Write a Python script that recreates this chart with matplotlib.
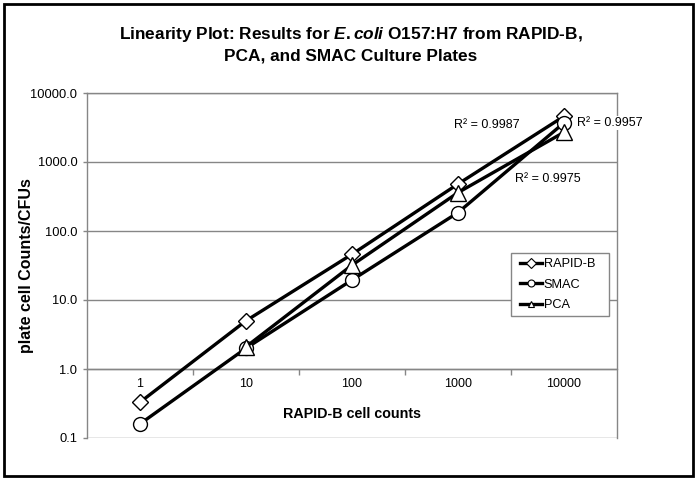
import numpy as np
import matplotlib
matplotlib.use("Agg")
import matplotlib.pyplot as plt
from matplotlib.lines import Line2D
from matplotlib.patches import Rectangle

plt.rcParams['font.family'] = ['Liberation Sans', 'DejaVu Sans']
plt.rcParams['mathtext.fontset'] = 'custom'
plt.rcParams['mathtext.rm'] = 'Liberation Sans:bold'
plt.rcParams['mathtext.it'] = 'Liberation Sans:bold:italic'
plt.rcParams['mathtext.bf'] = 'Liberation Sans:bold'

# ---- data ----
categories = ['1', '10', '100', '1000', '10000']
rapid_b = [0.33, 5.0, 46.0, 480.0, 4600.0]
smac = [0.16, 2.0, 19.5, 185.0, 3700.0]
pca = [np.nan, 2.1, 32.0, 360.0, 2700.0]
y_ticks = [0.1, 1, 10, 100, 1000, 10000]
y_tick_labels = ['0.1', '1.0', '10.0', '100.0', '1000.0', '10000.0']
r2_labels = ['R\u00b2 = 0.9987', 'R\u00b2 = 0.9957', 'R\u00b2 = 0.9975']
r2_x = [3.27, 4.43, 3.85]
r2_y = [3440.0, 3670.0, 567.0]

W, H = 699, 479
fig = plt.figure(figsize=(W / 100, H / 100), dpi=100)
fig.patch.set_facecolor('white')

# outer chart border
fig.patches.append(Rectangle((4 / W, 3 / H), 689 / W, 472 / H, transform=fig.transFigure,
                             fill=False, edgecolor='black', linewidth=2))

ax = fig.add_axes([87 / W, (H - 438) / H, 530 / W, 345 / H])
gray = '#868686'

x = np.arange(len(categories))
line_kw = dict(color='black', linewidth=2.4, markerfacecolor='white',
               markeredgecolor='black', markeredgewidth=1.0, zorder=5, clip_on=False)
ax.plot(x, rapid_b, marker='D', markersize=8, label='RAPID-B', **line_kw)
ax.plot(x, smac, marker='o', markersize=10, label='SMAC', **line_kw)
ax.plot(x, pca, marker='^', markersize=11, label='PCA', **line_kw)

ax.set_yscale('log')
ax.set_ylim(0.1, 10000)
ax.set_xlim(-0.5, len(categories) - 0.5)
ax.set_yticks(y_ticks)
ax.set_yticklabels(y_tick_labels)
ax.yaxis.set_minor_locator(matplotlib.ticker.NullLocator())
ax.tick_params(axis='y', which='major', direction='out', length=3, width=1, color=gray,
               pad=4, labelsize=9.3, labelcolor='black')
ax.grid(axis='y', which='major', color=gray, linewidth=1)
ax.set_axisbelow(True)

# category axis crossing at y = 1
ax.spines['bottom'].set_position(('data', 1))
ax.set_xticks([i + 0.5 for i in range(len(categories) - 1)])
ax.set_xticklabels([''] * (len(categories) - 1))
ax.set_xticks(x, minor=True)
ax.set_xticklabels(categories, minor=True)
ax.tick_params(axis='x', which='major', direction='out', length=4, width=1, color=gray)
ax.tick_params(axis='x', which='minor', length=0, pad=6.5, labelsize=9.0)

for s in ['left', 'right', 'top', 'bottom']:
    ax.spines[s].set_color(gray)
    ax.spines[s].set_linewidth(1)

ax.set_xlabel('RAPID-B cell counts', fontsize=10.3, fontweight='bold')
ax.xaxis.set_label_coords(0.5, 0.09)
ax.set_ylabel('plate cell Counts/CFUs', fontsize=11.5, fontweight='bold')
ax.yaxis.set_label_coords(-0.100, 0.5)

for t, xx, yy in zip(r2_labels, r2_x, r2_y):
    ax.text(xx, yy, t, fontsize=9.0, ha='center', va='center', zorder=6,
            bbox=dict(facecolor='white', edgecolor='none', pad=0.5))

fig.text(351 / W, 1 - 35 / H,
         r'Linearity Plot: Results for $\mathit{E.coli}$ O157:H7 from RAPID-B,',
         fontsize=12.4, fontweight='bold', ha='center', va='center')
fig.text(351 / W, 1 - 56 / H, 'PCA, and SMAC Culture Plates',
         fontsize=12.4, fontweight='bold', ha='center', va='center')

# legend box (Excel style) and frameless legend inside it
legend_box = Rectangle((511 / W, (H - 316) / H), 98 / W, 63 / H, transform=fig.transFigure,
                       facecolor='white', edgecolor=gray, linewidth=1, zorder=9)
fig.patches.append(legend_box)

handles = [Line2D([], [], color='black', linewidth=2.4, marker=m, markersize=5,
                  markerfacecolor='white', markeredgecolor='black', markeredgewidth=0.8)
           for m in ['D', 'o', '^']]
leg = fig.legend(handles, ['RAPID-B', 'SMAC', 'PCA'], loc='upper left',
                 bbox_to_anchor=(520 / W, 1 - 258 / H), bbox_transform=fig.transFigure,
                 borderaxespad=0, borderpad=0, frameon=False,
                 fontsize=9.2, handlelength=1.7, handletextpad=0.15, labelspacing=0.68)
leg.set_zorder(10)

fig.savefig('out.png', dpi=100)
